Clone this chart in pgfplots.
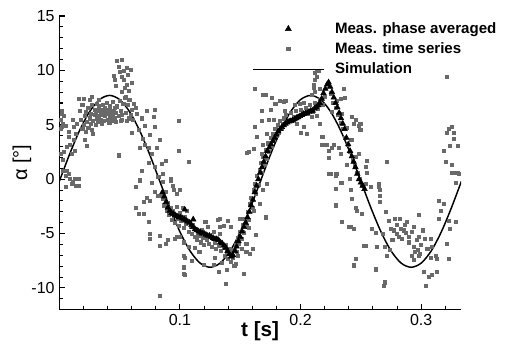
\documentclass[border=0pt]{standalone}
\usepackage{fontspec}
\setmainfont{Liberation Sans}
\usepackage{pgfplots}
\pgfplotsset{compat=1.18}
\definecolor{meas}{RGB}{105,105,105}
\begin{document}
\begin{tikzpicture}
\begin{axis}[
  scale only axis, width=301.3pt, height=220.3pt,
  xmin=0, xmax=0.333, ymin=-12, ymax=15,
  axis x line*=bottom, axis y line*=left,
  axis line style={-, line width=0.9pt},
  xtick={0.1,0.2,0.3}, ytick={-10,-5,0,5,10,15},
  minor xtick={0.02,0.04,0.06,0.08,0.12,0.14,0.16,0.18,0.22,0.24,0.26,0.28,0.32},
  minor ytick={-11,-9,-8,-7,-6,-4,-3,-2,-1,1,2,3,4,6,7,8,9,11,12,13,14},
  tick align=inside,
  major tick length=4.5pt, minor tick length=2.5pt,
  every tick/.style={black, line width=0.8pt},
  /pgf/number format/assume math mode=true,
  tick label style={font=\fontsize{12}{14}\selectfont},
  xlabel={\bfseries t [s]}, ylabel={α [°]},
  xlabel style={font=\fontsize{15.5}{17}\selectfont, at={(axis description cs:0.5,-0.036)}, anchor=north, inner sep=1pt},
  ylabel style={font=\fontsize{15}{17}\selectfont, at={(axis description cs:-0.093,0.5)}, anchor=center},
  legend image code/.code={\draw[mark repeat=2,mark phase=2] plot coordinates {(0pt,0pt) (26.5pt,0pt) (53pt,0pt)};},
  legend style={draw=none, fill=none, at={(rel axis cs:0.4797,0.988)}, anchor=north west,
    font=\bfseries\fontsize{11.3}{13}\selectfont, inner sep=0pt, row sep=1.5pt, column sep=6pt,
    nodes={inner sep=2pt}},
  legend cell align=left,
]
\addlegendimage{only marks, mark=triangle*, mark size=2.6pt, black}
\addlegendentry{Meas. phase averaged}
\addlegendimage{only marks, mark=square*, mark size=1.2pt, meas}
\addlegendentry{Meas. time series}
\addlegendimage{black, line width=1.1pt}
\addlegendentry{Simulation}

% measured time series
\addplot[forget plot, only marks, mark=square*, mark size=1.15pt, meas] coordinates {
(0.001,5.5)(0.002,6.3)(0.002,4.8)(0.003,5.1)(0.001,4.6)(0.002,6.0)(0.001,2.3)(0.003,1.8)(0.004,2.5)(0.006,0.8)
(0.0075,0.5)(0.005,-0.7)(0.005,0.3)(0.009,0.0)(0.010,-0.4)(0.011,-0.2)(0.013,0.0)(0.014,-0.6)(0.016,-0.6)(0.016,0.0)
(0.0075,3.9)(0.009,3.2)(0.010,2.3)(0.013,2.6)(0.0144,5.1)(0.017,6.3)(0.016,7.4)(0.005,4.9)(0.008,4.4)(0.012,4.8)
(0.011,5.5)(0.014,4.2)(0.018,5.5)(0.019,4.6)(0.006,3.0)(0.004,5.8)(0.012,3.6)(0.003,0.8)
(0.020,5.0)(0.021,5.8)(0.022,4.4)(0.022,6.2)(0.023,5.3)(0.024,4.7)(0.024,6.6)(0.025,5.6)(0.026,5.1)(0.026,6.0)
(0.027,4.5)(0.027,6.8)(0.028,5.4)(0.029,5.9)(0.029,6.4)(0.030,5.0)(0.030,6.1)(0.031,5.6)(0.031,6.9)(0.032,5.3)
(0.032,6.3)(0.033,5.8)(0.033,6.7)(0.034,5.5)(0.034,6.1)(0.035,6.4)(0.035,5.1)(0.036,5.9)(0.036,6.8)(0.037,6.2)
(0.037,5.4)(0.038,6.6)(0.038,5.8)(0.039,6.0)(0.039,7.0)(0.040,5.5)(0.040,6.4)(0.041,6.1)(0.041,5.2)(0.042,6.7)
(0.042,5.8)(0.043,5.6)(0.043,6.3)(0.044,5.9)(0.044,7.1)(0.045,6.2)(0.045,5.4)(0.046,6.6)(0.046,5.6)(0.047,6.1)
(0.047,5.3)(0.025,7.3)(0.019,6.8)(0.021,3.6)(0.023,3.1)(0.028,4.2)(0.020,7.4)(0.027,7.6)(0.033,7.3)(0.042,5.2)
(0.0448,9.5)(0.0462,9.1)(0.0476,10.9)(0.049,10.3)(0.0518,11.0)(0.0518,8.0)(0.0531,10.0)(0.0537,9.1)(0.0545,8.4)(0.0559,10.2)
(0.0559,8.7)(0.0573,8.1)(0.0595,10.1)(0.0601,8.9)(0.050,9.9)(0.052,9.4)(0.057,9.6)(0.047,8.6)(0.055,7.6)
(0.048,6.7)(0.049,5.8)(0.050,7.2)(0.051,6.3)(0.052,5.5)(0.053,6.9)(0.054,7.5)(0.055,6.1)(0.056,5.4)(0.057,6.8)
(0.058,7.3)(0.059,5.9)(0.060,6.4)(0.061,5.5)(0.062,6.9)(0.052,5.9)(0.058,5.6)(0.049,2.2)(0.051,5.4)
(0.063,6.6)(0.064,6.0)(0.066,4.5)(0.060,4.3)(0.067,2.9)(0.071,4.9)(0.0725,6.3)(0.079,6.4)(0.078,5.7)(0.079,4.8)
(0.071,3.2)(0.074,2.9)(0.077,2.3)(0.081,2.9)(0.079,1.1)(0.085,1.4)(0.088,1.7)(0.086,0.5)(0.092,-0.1)(0.099,5.4)
(0.099,2.6)(0.107,1.6)(0.063,-0.7)(0.068,0.8)(0.077,-0.3)(0.082,0.2)(0.069,3.7)(0.075,4.1)(0.083,3.6)(0.068,5.6)(0.074,1.5)
(0.067,-0.1)(0.063,-2.6)(0.066,-3.2)(0.070,-3.2)(0.070,-2.1)(0.0725,-1.7)(0.075,-2.0)(0.079,-1.2)(0.074,-3.9)(0.075,-5.0)
(0.075,-5.5)(0.0836,-5.2)(0.0836,-6.1)(0.088,-5.9)(0.092,0.0)(0.082,-1.5)(0.100,-1.0)(0.090,-5.6)(0.096,-5.5)(0.100,-5.3)
(0.103,-7.0)(0.104,-7.2)(0.103,-8.1)(0.103,-8.7)(0.110,-7.5)(0.0836,-10.7)(0.097,-1.3)(0.094,-0.6)(0.086,-0.2)(0.084,-1.5)
(0.086,-1.8)(0.087,-2.4)(0.088,-1.2)(0.089,-2.9)(0.090,-2.2)(0.091,-3.3)(0.092,-2.6)(0.093,-3.7)(0.094,-2.9)(0.095,-3.4)
(0.096,-4.0)(0.097,-2.5)(0.098,-3.6)(0.099,-4.3)(0.100,-3.1)(0.101,-3.8)(0.102,-2.6)(0.103,-4.5)(0.104,-3.5)(0.105,-4.1)
(0.106,-2.9)(0.107,-4.8)(0.108,-3.9)(0.109,-4.4)(0.110,-5.0)(0.111,-4.2)(0.112,-5.3)(0.113,-4.6)(0.114,-5.6)(0.115,-4.9)
(0.116,-5.2)(0.117,-5.8)(0.118,-4.7)(0.119,-5.4)(0.120,-6.0)(0.121,-5.1)(0.122,-5.6)(0.123,-4.4)(0.124,-5.9)(0.125,-5.3)
(0.126,-6.2)(0.127,-5.5)(0.128,-4.8)(0.129,-5.8)(0.130,-6.4)(0.131,-5.6)(0.132,-6.1)(0.133,-5.0)(0.134,-6.6)(0.135,-5.9)
(0.136,-6.3)(0.137,-7.0)(0.138,-6.0)(0.139,-6.7)(0.140,-7.3)(0.141,-6.4)(0.142,-7.6)(0.143,-6.8)(0.144,-7.2)(0.145,-6.5)
(0.0946,-1.0)(0.121,-3.9)(0.133,-3.6)(0.133,-4.4)(0.136,-4.3)(0.140,-3.8)(0.142,-4.4)(0.150,-3.6)(0.155,-5.9)(0.158,-6.9)
(0.153,-8.7)(0.138,-9.6)(0.132,-8.5)(0.128,-7.9)(0.120,-7.9)(0.171,-3.5)(0.169,-1.0)(0.172,-0.4)(0.1665,-2.3)(0.161,-2.9)
(0.107,-6.2)(0.103,-5.8)(0.097,-5.3)(0.1555,2.4)(0.161,2.8)(0.168,2.3)(0.146,-7.8)(0.148,-7.0)(0.151,-6.4)(0.145,-8.0)
(0.139,-8.3)(0.135,-7.7)(0.116,-6.7)(0.112,-6.3)(0.152,-4.8)(0.157,-4.5)(0.163,-5.1)(0.118,-4.7)(0.131,-3.7)(0.129,-7.2)
(0.104,-8.8)(0.155,-6.7)(0.160,-6.4)
(0.146,-6.0)(0.147,-6.7)(0.148,-5.4)(0.149,-5.9)(0.150,-4.8)(0.151,-5.5)(0.152,-4.2)(0.153,-4.9)(0.154,-3.6)(0.155,-4.3)
(0.156,-3.0)(0.157,-3.7)(0.158,-2.3)(0.159,-1.7)(0.160,-2.6)(0.161,-1.0)(0.162,-0.4)(0.163,-1.3)(0.164,0.3)(0.165,-0.5)
(0.166,0.9)(0.167,1.5)(0.168,0.6)(0.169,2.1)(0.170,1.3)(0.171,2.7)(0.172,1.9)(0.173,3.3)(0.174,2.5)(0.175,3.8)
(0.176,3.0)(0.177,4.2)(0.178,3.5)(0.179,4.6)(0.180,4.0)(0.181,5.0)(0.182,4.3)(0.183,5.4)(0.184,4.6)(0.185,5.1)
(0.1624,8.3)(0.169,7.8)(0.176,7.5)(0.168,6.3)(0.175,6.4)(0.179,6.9)(0.183,7.2)(0.186,7.1)(0.1734,5.5)(0.178,5.5)
(0.162,4.8)(0.168,5.4)(0.164,3.9)(0.172,4.2)(0.161,2.8)(0.157,2.5)(0.169,3.2)(0.187,6.3)(0.192,5.5)(0.197,5.1)
(0.200,4.3)(0.2025,4.8)(0.205,4.2)(0.2095,5.7)(0.2136,5.8)(0.216,5.1)(0.218,3.9)(0.2136,10.0)(0.212,9.1)(0.211,8.4)
(0.2115,8.0)(0.2095,7.8)(0.222,3.2)(0.223,2.0)(0.223,0.5)(0.229,0.5)(0.1873,7.2)(0.1707,7.8)
(0.186,5.6)(0.188,5.9)(0.190,5.4)(0.192,6.1)(0.194,5.7)(0.196,6.3)(0.198,5.8)(0.200,6.4)(0.202,5.9)(0.204,6.6)
(0.206,6.0)(0.208,6.8)(0.210,6.2)(0.212,7.0)(0.214,6.5)(0.216,7.3)(0.218,6.8)(0.220,7.6)(0.195,6.8)(0.199,6.9)(0.203,7.0)
(0.212,9.8)(0.215,10.0)(0.2136,9.4)(0.211,8.7)(0.216,8.3)(0.2357,8.3)(0.237,7.5)(0.233,7.4)(0.2426,5.7)(0.244,5.1)
(0.248,4.9)(0.2495,4.5)(0.219,3.2)(0.226,2.9)(0.223,2.6)(0.2315,2.9)(0.233,2.3)(0.248,2.3)(0.255,1.7)(0.2537,1.1)
(0.255,0.6)(0.2717,1.6)(0.229,0.3)(0.233,-0.3)(0.241,0.0)(0.2385,1.3)(0.265,-0.4)(0.2454,5.5)(0.2495,5.1)(0.2274,3.2)(0.2178,3.2)
(0.3215,9.4)(0.3228,4.6)(0.3256,4.8)(0.327,4.3)(0.3215,4.3)(0.327,3.7)(0.324,3.1)(0.330,3.1)(0.3187,2.6)(0.320,1.6)
(0.3256,1.3)(0.327,0.6)(0.331,0.5)(0.3256,0.6)
(0.225,7.9)(0.227,7.0)(0.229,6.6)(0.231,5.9)(0.233,5.2)(0.235,4.6)(0.237,3.8)(0.239,3.2)(0.241,2.5)(0.243,1.8)
(0.245,1.2)(0.247,0.6)(0.249,0.0)(0.251,-0.5)(0.226,6.2)(0.230,7.2)(0.234,6.0)(0.238,4.7)(0.242,3.6)(0.246,2.1)
(0.2247,0.5)(0.230,0.5)(0.234,-0.3)(0.229,-0.9)(0.229,-2.4)(0.2413,-1.0)(0.2426,-1.8)(0.2454,-2.6)(0.2468,-2.9)(0.251,-3.2)
(0.2537,-0.4)(0.258,-0.7)(0.265,-0.7)(0.266,-1.0)(0.266,-1.5)(0.266,-2.1)(0.2343,-3.9)(0.2413,-4.4)(0.244,-4.6)(0.252,-6.1)
(0.259,-4.6)(0.262,-4.9)(0.2634,-6.2)(0.273,-3.8)(0.2745,-4.6)(0.277,-4.7)(0.280,-4.2)(0.283,-4.6)(0.2855,-4.7)(0.2813,-5.3)
(0.288,-3.9)(0.2938,-4.4)(0.298,-3.3)(0.298,-5.3)(0.2896,-5.3)(0.2938,-6.2)(0.295,-6.7)(0.298,-7.0)(0.2924,-7.0)(0.3076,-5.5)
(0.309,-6.2)(0.3118,-7.0)(0.313,-7.3)(0.3076,-7.2)(0.302,-8.5)(0.306,-9.0)(0.3035,-9.8)(0.309,-8.8)(0.313,-8.5)(0.270,-9.4)
(0.269,-9.8)(0.262,-8.2)(0.2454,-7.3)(0.244,-7.9)(0.270,-6.2)(0.2717,-7.0)(0.3145,-2.0)(0.316,-2.9)(0.3187,-2.3)(0.3145,-3.6)
(0.3228,-3.8)(0.324,-4.6)(0.3215,-5.9)(0.3228,-7.3)(0.3284,-3.9)(0.330,0.6)(0.3284,-0.3)
(0.280,-5.0)(0.284,-5.5)(0.287,-4.9)(0.290,-5.8)(0.282,-3.6)(0.286,-4.2)(0.292,-4.8)(0.296,-5.6)(0.300,-6.0)(0.303,-5.5)
(0.305,-6.4)(0.301,-4.7)(0.297,-6.5)(0.299,-6.9)(0.294,-7.4)(0.276,-5.6)(0.278,-3.6)(0.274,-6.5)(0.268,-5.0)(0.271,-3.0)
(0.240,-4.4)(0.2537,-6.1)(0.244,-8.0)(0.262,-8.3)(0.270,-9.5)
};

% simulation
\addplot[forget plot, black, line width=1.1pt, smooth] coordinates {
(0,-0.2)(0.00833,2.241)(0.01667,4.445)(0.025,6.191)(0.03333,7.313)(0.04167,7.7)(0.05,7.313)(0.05833,6.191)
(0.06667,4.445)(0.075,2.241)(0.08333,-0.2)(0.09167,-2.641)(0.1,-4.845)(0.10833,-6.591)(0.11667,-7.713)(0.125,-8.1)
(0.13333,-7.713)(0.14167,-6.591)(0.15,-4.845)(0.15833,-2.641)(0.16667,-0.2)(0.175,2.241)(0.18333,4.445)(0.19167,6.191)
(0.2,7.313)(0.20833,7.7)(0.21667,7.313)(0.225,6.191)(0.23333,4.445)(0.24167,2.241)(0.25,-0.2)(0.25833,-2.641)
(0.26667,-4.845)(0.275,-6.591)(0.28333,-7.713)(0.29167,-8.1)(0.3,-7.713)(0.30833,-6.591)(0.31667,-4.845)(0.325,-2.641)(0.33333,-0.2)
};

% phase averaged
\addplot[forget plot, only marks, mark=triangle*, mark size=2.4pt, black] coordinates {
(0.0855,-1.2)(0.087,-1.6)(0.0885,-2.1)(0.090,-2.6)(0.0915,-2.9)(0.093,-3.1)(0.0945,-3.2)(0.096,-3.3)(0.0975,-3.4)(0.099,-3.5)
(0.1005,-3.5)(0.102,-3.6)(0.1035,-3.7)(0.104,-2.8)(0.105,-3.8)(0.1065,-3.9)(0.108,-4.0)(0.1095,-4.2)(0.111,-3.7)(0.111,-4.4)
(0.1125,-4.6)(0.114,-4.7)(0.1155,-4.8)(0.117,-4.9)(0.1185,-5.0)(0.120,-5.0)(0.1215,-5.1)(0.123,-5.2)(0.1245,-5.2)(0.126,-5.3)
(0.1275,-5.4)(0.129,-5.5)(0.1305,-5.5)(0.132,-5.6)(0.1335,-5.8)(0.135,-5.9)(0.1365,-6.1)(0.138,-6.3)(0.1395,-6.6)(0.141,-6.9)
(0.1425,-7.1)(0.144,-7.0)
(0.1455,-6.6)(0.147,-6.2)(0.1485,-5.7)(0.150,-5.3)(0.1515,-4.8)(0.153,-4.4)(0.1545,-4.0)(0.156,-3.5)(0.1575,-3.0)(0.159,-2.4)
(0.1605,-1.9)(0.162,-1.2)(0.1635,-0.6)(0.165,0.0)(0.1665,0.6)(0.168,1.1)(0.1695,1.6)(0.171,2.1)(0.1725,2.6)(0.174,2.9)
(0.1755,3.2)(0.177,3.5)(0.1785,3.8)(0.180,4.1)(0.1815,4.4)(0.183,4.6)(0.1845,4.8)(0.186,4.95)(0.1875,5.1)(0.189,5.2)
(0.1905,5.3)(0.192,5.35)(0.1935,5.4)(0.195,5.5)(0.1965,5.6)(0.198,5.7)(0.1995,5.8)(0.201,5.9)(0.2025,6.0)(0.204,6.05)
(0.2055,6.1)(0.207,6.2)(0.2085,6.3)(0.210,6.3)(0.2115,6.5)(0.213,6.6)(0.2145,6.8)(0.216,7.0)(0.2175,7.4)(0.219,7.9)
(0.2205,8.3)(0.222,8.7)(0.2232,8.9)
(0.2245,8.5)(0.226,8.0)(0.2275,7.5)(0.229,7.0)(0.2305,6.6)(0.232,6.1)(0.2335,5.6)(0.235,5.1)(0.2365,4.6)(0.238,3.8)
(0.2395,3.2)(0.241,2.6)(0.2425,2.1)(0.244,1.6)(0.2455,1.1)(0.247,0.5)(0.2485,0.0)(0.250,-0.3)(0.2515,-0.6)(0.253,-0.9)
};
\end{axis}
\pgfresetboundingbox
\path[use as bounding box] (-44.5pt,-25.7pt) rectangle (334.3pt,232.3pt);
\end{tikzpicture}
\end{document}
